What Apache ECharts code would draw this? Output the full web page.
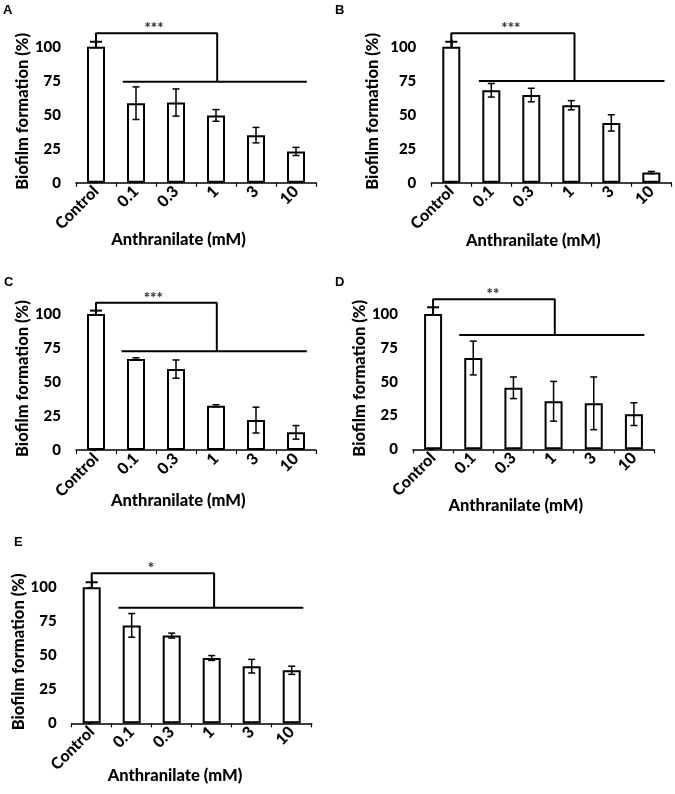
<!DOCTYPE html>
<html><head><meta charset="utf-8">
<script src="https://cdn.jsdelivr.net/npm/echarts@6/dist/echarts.min.js"></script>
<style>html,body{margin:0;padding:0;background:#fff}#c{width:675px;height:794px}</style>
</head><body><div id="c"></div>
<script>
// ---------- data ----------
const categories = ['Control', '0.1', '0.3', '1', '3', '10'];
const panelLetters = ['A', 'B', 'C', 'D', 'E'];
const yTicks = [0, 25, 50, 75, 100];
const xAxisTitle = 'Anthranilate (mM)';
const yAxisTitle = 'Biofilm formation (%)';
const starLabels = ['***', '***', '***', '**', '*'];

const valuesA = [100, 58.5, 59, 49.5, 35, 23];
const errorsA = [3.7, 12, 10, 4.3, 5.7, 3];
const valuesB = [100, 68, 64.5, 57, 44, 7.5];
const errorsB = [3.7, 5, 5, 3.4, 6, 0.8];
const valuesC = [100, 67, 59.5, 32.5, 22, 13];
const errorsC = [2.5, 0.8, 6.7, 0.8, 9.5, 5];
const valuesD = [100, 67.5, 45.5, 35.5, 34, 26];
const errorsD = [5, 12.5, 8, 14.7, 19.5, 8.4];
const valuesE = [100, 72, 64.5, 48, 42, 39];
const errorsE = [3.7, 8.7, 1.8, 1.8, 5, 3];

// significance brackets (data units: category index / percent)
const bracketTopY = [110, 110, 108.3, 111, 110.3];
const bracketLowY = [74.3, 74.8, 72.6, 84.5, 85];
const bracketDropX = [3.03, 3.08, 3.02, 3.03, 3.06];
const bracketLowStartX = [0.67, 0.69, 0.64, 0.65, 0.67];
const bracketLowEndX = [5.27, 5.33, 5.27, 5.26, 5.29];
const starX = [1.45, 1.49, 1.43, 1.49, 1.48];
const starY = [114, 113.7, 111.8, 114.6, 113.8];

const allValues = [valuesA, valuesB, valuesC, valuesD, valuesE];
const allErrors = [errorsA, errorsB, errorsC, errorsD, errorsE];

// ---------- layout ----------
const grids = [
  {left: 76, top: 40, width: 240, height: 142.7, nameGap: 42, xTitle: [178.5, 240], letter: [3, 4]},
  {left: 431.3, top: 40, width: 240, height: 142.7, nameGap: 50, xTitle: [533.3, 241], letter: [335, 4]},
  {left: 76, top: 307.2, width: 240, height: 142.8, nameGap: 43, xTitle: [178.3, 500.5], letter: [4, 276]},
  {left: 413, top: 307.3, width: 241, height: 142, nameGap: 45, xTitle: [515.8, 505.7], letter: [335, 276]},
  {left: 71.7, top: 580.5, width: 240, height: 142.8, nameGap: 43, xTitle: [175, 775.8], letter: [14, 536]}
];

const FONT = 'Lato, "Open Sans", sans-serif';
const WEIGHT = 900;
const BLACK = '#000';

const option = {
  animation: false,
  backgroundColor: '#fff',
  grid: [], xAxis: [], yAxis: [], series: [], graphic: []
};

grids.forEach((g, i) => {
  option.grid.push({left: g.left, top: g.top, width: g.width, height: g.height, containLabel: false});
  option.xAxis.push({
    type: 'category', gridIndex: i, data: categories,
    axisLine: {show: true, lineStyle: {color: BLACK, width: 1.5}},
    axisTick: {show: true, length: 4, lineStyle: {color: BLACK, width: 1.2}},
    axisLabel: {rotate: 45, margin: 6, color: BLACK, fontFamily: FONT, fontWeight: WEIGHT, fontSize: 16, interval: 0},
    splitLine: {show: false}
  });
  option.yAxis.push({
    type: 'value', gridIndex: i, min: 0, max: 105,
    name: yAxisTitle, nameLocation: 'middle', nameGap: g.nameGap,
    nameTextStyle: {color: BLACK, fontFamily: FONT, fontWeight: WEIGHT, fontSize: 16.5},
    axisLine: {show: true, lineStyle: {color: BLACK, width: 1.5}},
    axisTick: {show: true, length: 4, customValues: yTicks, lineStyle: {color: BLACK, width: 1.2}},
    axisLabel: {customValues: yTicks, margin: 15, color: BLACK, fontFamily: FONT, fontWeight: WEIGHT, fontSize: 15},
    splitLine: {show: false}
  });
});
grids.forEach((g, i) => {
  option.xAxis.push({type: 'value', gridIndex: i, min: -0.5, max: 5.5, show: false});
});

grids.forEach((g, i) => {
  const vals = allValues[i], errs = allErrors[i];
  option.series.push({
    type: 'bar', xAxisIndex: i, yAxisIndex: i, data: vals, barWidth: 18,
    itemStyle: {color: '#fff', borderColor: BLACK, borderWidth: 2}, z: 2
  });
  option.series.push({
    type: 'custom', xAxisIndex: i, yAxisIndex: i, z: 3,
    data: vals.map((v, k) => [k, v, errs[k]]),
    renderItem: function (params, api) {
      const k = api.value(0), v = api.value(1), e = api.value(2);
      const isCtrl = k === 0;
      const hi = api.coord([k, v + e]);
      const lo = api.coord([k, isCtrl ? v : v - e]);
      const w = isCtrl ? 6 : 3.5;
      const st = {stroke: BLACK, lineWidth: isCtrl ? 2 : 1.5};
      const ch = [
        {type: 'line', shape: {x1: hi[0], y1: hi[1], x2: lo[0], y2: lo[1]}, style: st},
        {type: 'line', shape: {x1: hi[0] - w, y1: hi[1], x2: hi[0] + w, y2: hi[1]}, style: st}
      ];
      if (!isCtrl) ch.push({type: 'line', shape: {x1: lo[0] - w, y1: lo[1], x2: lo[0] + w, y2: lo[1]}, style: st});
      return {type: 'group', children: ch};
    }
  });
  const vx = grids.length + i;
  option.series.push({
    type: 'line', xAxisIndex: vx, yAxisIndex: i, clip: false, z: 4,
    showSymbol: false, symbol: 'none', silent: true,
    lineStyle: {color: BLACK, width: 2},
    data: [[0, vals[0] + errs[0]], [0, bracketTopY[i]], [bracketDropX[i], bracketTopY[i]], [bracketDropX[i], bracketLowY[i]]]
  });
  option.series.push({
    type: 'line', xAxisIndex: vx, yAxisIndex: i, clip: false, z: 4,
    showSymbol: false, symbol: 'none', silent: true,
    lineStyle: {color: BLACK, width: 2},
    data: [[bracketLowStartX[i], bracketLowY[i]], [bracketLowEndX[i], bracketLowY[i]]]
  });
  option.series.push({
    type: 'scatter', xAxisIndex: vx, yAxisIndex: i, clip: false, z: 5, silent: true,
    symbolSize: 1, itemStyle: {color: 'rgba(0,0,0,0)'},
    label: {show: true, position: 'inside', formatter: starLabels[i], color: BLACK,
      fontFamily: FONT, fontWeight: WEIGHT, fontSize: 15},
    data: [[starX[i], starY[i]]]
  });
  option.graphic.push({
    type: 'text', x: g.letter[0], y: g.letter[1],
    style: {text: panelLetters[i], fill: BLACK, font: 'bold 13px "Liberation Sans", Arial, sans-serif'}
  });
  option.graphic.push({
    type: 'text', x: g.xTitle[0], y: g.xTitle[1],
    style: {text: xAxisTitle, fill: BLACK, align: 'center', verticalAlign: 'middle',
      font: WEIGHT + ' 16.5px ' + FONT}
  });
});

const chart = echarts.init(document.getElementById('c'), null, {renderer: 'canvas'});
chart.setOption(option);
</script>
</body></html>
